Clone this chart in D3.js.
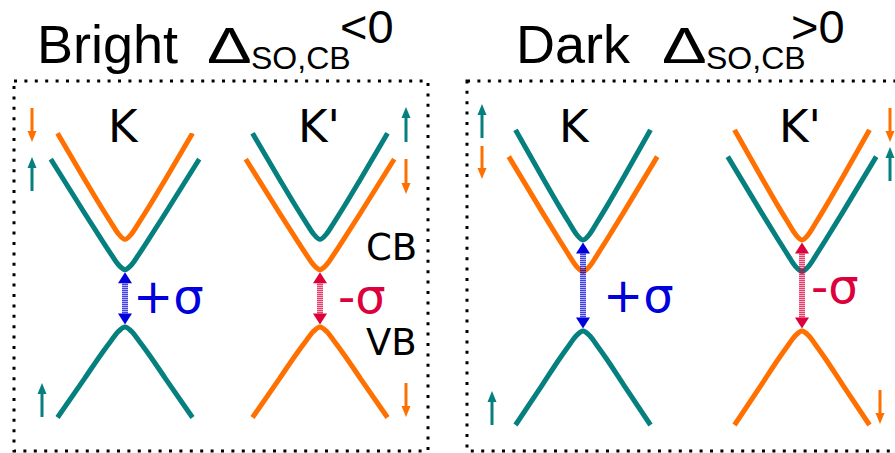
<!DOCTYPE html>
<html>
<head>
<meta charset="utf-8">
<script src="https://cdn.jsdelivr.net/npm/d3@7"></script>
<style>
  html, body { margin: 0; padding: 0; background: #fff; }
  svg { display: block; }
</style>
</head>
<body>
<svg id="chart" width="895" height="453"></svg>
<script>
// ---- Band data (k in valley units, energy relative to each band edge) ----
const kUpperCB = [-1, -0.6, -0.35, -0.2, -0.1, 0, 0.1, 0.2, 0.35, 0.6, 1];
const eUpperCB = [1.85, 1.05, 0.56, 0.28, 0.10, 0, 0.10, 0.28, 0.56, 1.05, 1.85];
const kLowerCB = [-1.1, -0.6, -0.35, -0.2, -0.1, 0, 0.1, 0.2, 0.35, 0.6, 1.1];
const eLowerCB = [1.93, 0.99, 0.53, 0.26, 0.09, 0, 0.09, 0.26, 0.53, 0.99, 1.93];
const kVB = [-1, -0.6, -0.35, -0.2, -0.1, 0, 0.1, 0.2, 0.35, 0.6, 1];
const eVB = [-1.58, -0.90, -0.47, -0.23, -0.08, 0, -0.08, -0.23, -0.47, -0.90, -1.58];

// band edges (energy)
const edgeVB = 0;
const edgeLowerCB = 1.0;
const edgeUpperCB = 1.53;

// panels and valleys
const panelNames = ["Bright", "Dark"];
const panelSigns = ["<0", ">0"];
const valleyNames = ["K", "K'"];
// spin of the upper conduction band, per panel and valley
const upperCBSpin = [["down", "up"], ["up", "down"]];
// spin of the valence band, per valley
const vbSpin = ["up", "down"];
// optical selection rule per valley
const polarizationLabels = ["+\u03c3", "-\u03c3"];

// ---- Styles ----
const spinColor = { up: "#067f7f", down: "#ff7000" };
const polColor = ["#0000dc", "#dc003c"];
const oppositeSpin = s => (s === "up" ? "down" : "up");

// ---- Layout ----
const layout = [
  { box: [14, 81, 414, 370], valleyX: [125, 320], y0: 327, unit: 57.3,
    title: { word: [37, 63], delta: [207, 63], sub: [251, 69], sup: [340, 43] },
    kLabel: [[108, 142], [298, 142]],
    pol: [[133, 313], [338, 313]],
    bandLabels: true,
    spins: [ // x, yTop, yBottom, spin
      [32, 108, 142, "down"], [32, 157, 191, "up"],
      [406, 107, 142, "up"], [406, 159, 194, "down"],
      [42, 383, 417, "up"], [406, 383, 417, "down"]
    ] },
  { box: [467, 81, 432, 370], valleyX: [583, 802], y0: 331, unit: 59.5,
    title: { word: [516, 63], delta: [662, 63], sub: [706, 69], sup: [791, 43] },
    kLabel: [[559, 142], [779, 142]],
    pol: [[603, 312], [811, 303]],
    bandLabels: false,
    spins: [
      [482, 104, 138, "up"], [482, 146, 179, "down"],
      [890, 108, 142, "down"], [890, 147, 181, "up"],
      [492, 391, 425, "up"], [880, 390, 424, "down"]
    ] }
];

const svg = d3.select("#chart");
const defs = svg.append("defs");

// striped fill for the transition arrow shafts
polColor.forEach((c, i) => {
  const p = defs.append("pattern")
    .attr("id", "stripe" + i)
    .attr("patternUnits", "userSpaceOnUse")
    .attr("width", 8).attr("height", 2);
  p.append("rect").attr("width", 8).attr("height", 1).attr("fill", c).attr("fill-opacity", 0.75);
  p.append("rect").attr("y", 1).attr("width", 8).attr("height", 1).attr("fill", c).attr("fill-opacity", 0.3);
});

const titleFont = "'Liberation Sans', Arial, sans-serif";
const labelFont = "'DejaVu Sans', Verdana, sans-serif";

function spinArrow(g, x, yTop, yBottom, spin) {
  const col = spinColor[spin];
  const head = 11, hw = 4.5;
  const up = spin === "up";
  const tipY = up ? yTop : yBottom;
  const baseY = up ? yTop + head : yBottom - head;
  g.append("line")
    .attr("x1", x).attr("x2", x)
    .attr("y1", up ? baseY : yTop).attr("y2", up ? yBottom : baseY)
    .attr("stroke", col).attr("stroke-width", 3);
  g.append("path")
    .attr("d", `M${x - hw},${baseY} L${x + hw},${baseY} L${x},${tipY} Z`)
    .attr("fill", col);
}

layout.forEach((L, pi) => {
  const g = svg.append("g");

  // title
  const t = L.title;
  g.append("text").attr("x", t.word[0]).attr("y", t.word[1])
    .attr("font-family", titleFont).attr("font-size", 54).text(panelNames[pi]);
  g.append("text")
    .attr("transform", `translate(${t.delta[0]},${t.delta[1]}) scale(1.34,1)`)
    .attr("font-family", titleFont).attr("font-size", 50).text("\u0394");
  g.append("text").attr("x", t.sub[0]).attr("y", t.sub[1])
    .attr("font-family", titleFont).attr("font-size", 32).text("SO,CB");
  g.append("text").attr("x", t.sup[0]).attr("y", t.sup[1])
    .attr("font-family", titleFont).attr("font-size", 47).text(panelSigns[pi]);

  // dotted frame
  g.append("rect")
    .attr("x", L.box[0]).attr("y", L.box[1])
    .attr("width", L.box[2]).attr("height", L.box[3])
    .attr("fill", "none").attr("stroke", "#000")
    .attr("stroke-width", 3).attr("stroke-dasharray", "3,7.4");

  const y = d3.scaleLinear().domain([0, 1]).range([L.y0, L.y0 - L.unit]);

  valleyNames.forEach((vName, vi) => {
    const cx = L.valleyX[vi];
    const x = d3.scaleLinear().domain([-1, 1]).range([cx - 67.5, cx + 67.5]);
    const line = d3.line().x(d => x(d[0])).y(d => y(d[1])).curve(d3.curveMonotoneX);

    const upSpin = upperCBSpin[pi][vi];
    const bands = [
      { k: kUpperCB, e: eUpperCB, edge: edgeUpperCB, spin: upSpin },
      { k: kLowerCB, e: eLowerCB, edge: edgeLowerCB, spin: oppositeSpin(upSpin) },
      { k: kVB, e: eVB, edge: edgeVB, spin: vbSpin[vi] }
    ];

    bands.forEach(b => {
      g.append("path")
        .datum(b.k.map((k, i) => [k, b.edge + b.e[i]]))
        .attr("d", line)
        .attr("fill", "none")
        .attr("stroke", spinColor[b.spin])
        .attr("stroke-width", 5);
    });

    // optical transition: VB <-> CB band with the same spin
    const target = bands[0].spin === vbSpin[vi] ? bands[0] : bands[1];
    const yTop = y(target.edge) + 2.5;
    const yBot = y(edgeVB) - 2.5;
    const head = 11, hw = 7;
    g.append("rect")
      .attr("x", cx - 3).attr("y", yTop + head - 1)
      .attr("width", 6).attr("height", (yBot - head + 1) - (yTop + head - 1))
      .attr("fill", `url(#stripe${vi})`);
    g.append("path")
      .attr("d", `M${cx - hw},${yTop + head} L${cx + hw},${yTop + head} L${cx},${yTop} Z`)
      .attr("fill", polColor[vi]);
    g.append("path")
      .attr("d", `M${cx - hw},${yBot - head} L${cx + hw},${yBot - head} L${cx},${yBot} Z`)
      .attr("fill", polColor[vi]);

    // labels
    g.append("text").attr("x", L.kLabel[vi][0]).attr("y", L.kLabel[vi][1])
      .attr("font-family", labelFont).attr("font-size", 45).text(vName);
    g.append("text").attr("x", L.pol[vi][0]).attr("y", L.pol[vi][1])
      .attr("font-family", labelFont).attr("font-size", 48)
      .attr("fill", polColor[vi]).text(polarizationLabels[vi]);
  });

  if (L.bandLabels) {
    g.append("text").attr("x", 366).attr("y", 260)
      .attr("font-family", labelFont).attr("font-size", 37).text("CB");
    g.append("text").attr("x", 366).attr("y", 355)
      .attr("font-family", labelFont).attr("font-size", 37).text("VB");
  }

  L.spins.forEach(s => spinArrow(g, s[0], s[1], s[2], s[3]));
});
</script>
</body>
</html>
